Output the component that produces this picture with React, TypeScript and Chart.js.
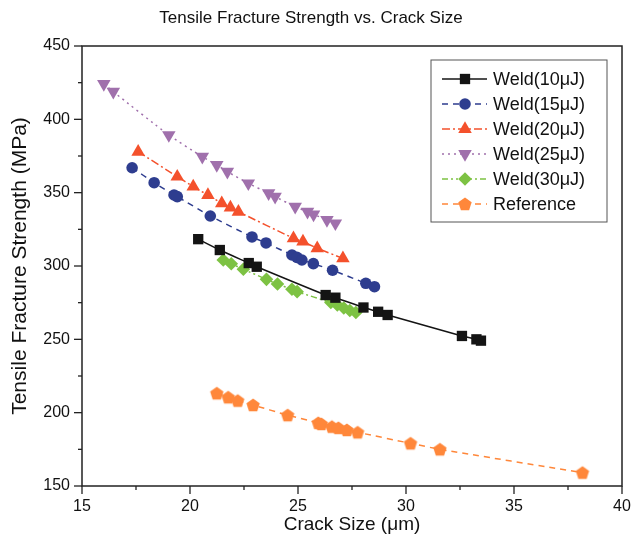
import React, { useEffect, useRef } from "react";
import { Chart, registerables } from "chart.js";
Chart.register(...registerables);

// ---- data ----
const titleText = "Tensile Fracture Strength vs. Crack Size";
const xTitle = "Crack Size (μm)";
const yTitle = "Tensile Fracture Strength (MPa)";

const xMajorTicks = [15, 20, 25, 30, 35, 40];
const xMinorTicks = [17.5, 22.5, 27.5, 32.5, 37.5];
const yMajorTicks = [150, 200, 250, 300, 350, 400, 450];
const yMinorTicks = [175, 225, 275, 325, 375, 425];

const seriesLabels = ["Weld(10μJ)", "Weld(15μJ)", "Weld(20μJ)", "Weld(25μJ)", "Weld(30μJ)", "Reference"];

const weld10X = [20.38, 21.38, 22.72, 23.09, 26.28, 26.73, 28.03, 28.71, 29.15, 32.59, 33.26, 33.47];
const weld10Y = [318.3, 310.9, 302.0, 299.5, 280.2, 278.4, 271.7, 268.8, 266.6, 252.3, 250.0, 249.1];

const weld15X = [17.32, 18.34, 19.26, 19.41, 20.94, 22.87, 23.52, 24.72, 24.95, 25.18, 25.71, 26.6, 28.14, 28.54];
const weld15Y = [367.0, 356.8, 348.4, 347.3, 334.1, 319.8, 315.7, 307.5, 305.9, 304.1, 301.6, 297.1, 288.2, 285.9];

const weld20X = [17.6, 19.41, 20.15, 20.83, 21.47, 21.87, 22.24, 24.79, 25.23, 25.89, 27.08];
const weld20Y = [377.9, 360.9, 354.1, 348.4, 342.8, 339.9, 337.0, 318.9, 316.6, 312.1, 305.2];

const weld25X = [16.01, 16.45, 19.02, 20.57, 21.24, 21.73, 22.7, 23.64, 23.94, 24.87, 25.44, 25.72, 26.34, 26.73];
const weld25Y = [424.1, 418.8, 389.3, 374.5, 368.9, 364.3, 356.4, 349.6, 347.3, 340.4, 337.0, 335.2, 331.4, 329.1];

const weld30X = [21.54, 21.91, 22.47, 23.54, 24.05, 24.72, 24.96, 26.52, 26.82, 27.12, 27.4, 27.68];
const weld30Y = [304.1, 301.5, 297.8, 290.9, 287.7, 284.1, 282.5, 275.1, 273.4, 271.4, 269.7, 268.3];

const refX = [21.24, 21.77, 22.21, 22.92, 24.52, 25.94, 26.08, 26.57, 26.87, 27.26, 27.76, 30.21, 31.57, 38.17];
const refY = [213.2, 210.5, 208.2, 205.2, 198.3, 193.0, 192.3, 190.4, 189.6, 188.2, 186.6, 179.1, 175.0, 159.1];

const seriesX = [weld10X, weld15X, weld20X, weld25X, weld30X, refX];
const seriesY = [weld10Y, weld15Y, weld20Y, weld25Y, weld30Y, refY];

// ---- styles ----
const FONT = "'Liberation Sans', Arial, sans-serif";
const colors = ["#141414", "#2E3D8F", "#F4512C", "#A070AC", "#7DC243", "#FF873A"];
const dashes: number[][] = [[], [6, 5], [8, 3, 2, 3], [2, 4], [6, 3, 2, 3, 2, 3], [6, 5]];
const markers = ["rect", "circle", "triangle", "triangleDown", "rectRot", "pentagon"];
const radii = [7.3, 5.8, 7.8, 7.8, 6.8, 7];

function pentagonPath(ctx: CanvasRenderingContext2D, cx: number, cy: number, r: number) {
  ctx.beginPath();
  for (let i = 0; i < 5; i++) {
    const a = -Math.PI / 2 + (i * 2 * Math.PI) / 5;
    const px = cx + r * Math.cos(a);
    const py = cy + r * Math.sin(a);
    if (i === 0) ctx.moveTo(px, py);
    else ctx.lineTo(px, py);
  }
  ctx.closePath();
}

function makePentagon(color: string, r: number) {
  const c = document.createElement("canvas");
  const s = Math.ceil(r * 2 + 2);
  c.width = s;
  c.height = s;
  const ctx = c.getContext("2d")!;
  ctx.fillStyle = color;
  pentagonPath(ctx, s / 2, s / 2 + 0.5, r);
  ctx.fill();
  return c;
}

function drawMarker(ctx: CanvasRenderingContext2D, kind: string, x: number, y: number, r: number, color: string) {
  ctx.save();
  ctx.fillStyle = color;
  ctx.setLineDash([]);
  ctx.beginPath();
  if (kind === "rect") {
    const s = Math.SQRT1_2 * r;
    ctx.rect(x - s, y - s, 2 * s, 2 * s);
  } else if (kind === "circle") {
    ctx.arc(x, y, r, 0, Math.PI * 2);
  } else if (kind === "triangle" || kind === "triangleDown") {
    let rad = kind === "triangle" ? 0 : Math.PI;
    for (let i = 0; i < 3; i++) {
      const px = x + Math.sin(rad) * r;
      const py = y - Math.cos(rad) * r;
      if (i === 0) ctx.moveTo(px, py);
      else ctx.lineTo(px, py);
      rad += (2 * Math.PI) / 3;
    }
    ctx.closePath();
  } else if (kind === "rectRot") {
    ctx.moveTo(x, y - r);
    ctx.lineTo(x + r, y);
    ctx.lineTo(x, y + r);
    ctx.lineTo(x - r, y);
    ctx.closePath();
  } else {
    pentagonPath(ctx, x, y + 0.5, r);
  }
  ctx.fill();
  ctx.restore();
}

const framePlugin = {
  id: "frameTicks",
  afterDraw(chart: any) {
    const { ctx, chartArea: a, scales } = chart;
    const xs = scales.x;
    const ys = scales.y;
    ctx.save();
    ctx.strokeStyle = "#222";
    ctx.lineWidth = 1.5;
    ctx.setLineDash([]);
    ctx.strokeRect(a.left, a.top, a.right - a.left, a.bottom - a.top);
    ctx.lineWidth = 1.3;
    const tick = (x1: number, y1: number, x2: number, y2: number) => {
      ctx.beginPath();
      ctx.moveTo(x1, y1);
      ctx.lineTo(x2, y2);
      ctx.stroke();
    };
    xMajorTicks.forEach((v) => { const p = xs.getPixelForValue(v); tick(p, a.bottom, p, a.bottom + 8); });
    xMinorTicks.forEach((v) => { const p = xs.getPixelForValue(v); tick(p, a.bottom, p, a.bottom + 4); });
    yMajorTicks.forEach((v) => { const p = ys.getPixelForValue(v); tick(a.left, p, a.left - 8, p); });
    yMinorTicks.forEach((v) => { const p = ys.getPixelForValue(v); tick(a.left, p, a.left - 4, p); });

    // legend
    const bx = a.right - 191;
    const by = a.top + 14;
    const bw = 176;
    const bh = 162;
    ctx.fillStyle = "#fff";
    ctx.fillRect(bx, by, bw, bh);
    ctx.strokeStyle = "#555";
    ctx.lineWidth = 1;
    ctx.strokeRect(bx, by, bw, bh);
    ctx.font = `18px ${FONT}`;
    ctx.textBaseline = "middle";
    ctx.textAlign = "left";
    chart.data.datasets.forEach((ds: any, i: number) => {
      const ry = by + 19 + i * 25;
      ctx.save();
      ctx.strokeStyle = colors[i];
      ctx.lineWidth = 1.5;
      ctx.setLineDash(dashes[i]);
      tick(bx + 11, ry, bx + 56, ry);
      ctx.restore();
      drawMarker(ctx, markers[i], bx + 34, ry, radii[i], colors[i]);
      ctx.fillStyle = "#111";
      ctx.fillText(ds.label, bx + 62, ry + 1);
    });
    ctx.restore();
  },
};

export default function App() {
  const ref = useRef<HTMLCanvasElement | null>(null);
  useEffect(() => {
    if (!ref.current) return;
    const pent = makePentagon(colors[5], radii[5]);
    const datasets = seriesLabels.map((label, i) => ({
      label,
      data: seriesX[i].map((x, j) => ({ x, y: seriesY[i][j] })),
      showLine: true,
      borderColor: colors[i],
      backgroundColor: colors[i],
      borderWidth: 1.5,
      borderDash: dashes[i],
      pointStyle: markers[i] === "pentagon" ? pent : markers[i] === "triangleDown" ? "triangle" : markers[i],
      rotation: markers[i] === "triangleDown" ? 180 : 0,
      pointRadius: radii[i],
      pointBorderWidth: 0,
      pointBackgroundColor: colors[i],
      pointBorderColor: colors[i],
      tension: 0.2,
    }));
    const chart = new Chart(ref.current, {
      type: "scatter",
      data: { datasets },
      options: {
        responsive: false,
        animation: false,
        devicePixelRatio: 1,
        layout: { padding: { left: 0, right: 9, top: 0, bottom: 0 } },
        plugins: {
          legend: { display: false },
          tooltip: { enabled: false },
          title: {
            display: true,
            text: titleText,
            color: "#111",
            font: { family: FONT, size: 17, weight: "normal" },
            padding: { top: 8, bottom: 17.6 },
          },
        },
        scales: {
          x: {
            type: "linear",
            min: 15,
            max: 40,
            afterFit: (s: any) => { s.height = 55; s.paddingLeft = 0; s.paddingRight = 0; },
            afterBuildTicks: (s: any) => { s.ticks = xMajorTicks.map((v) => ({ value: v })); },
            ticks: { color: "#111", padding: 11, maxRotation: 0, autoSkip: false, font: { family: FONT, size: 16 } },
            grid: { display: false, drawTicks: false },
            border: { display: false },
            title: { display: true, text: xTitle, color: "#111", font: { family: FONT, size: 19 }, padding: { top: 0, bottom: 5 } },
          },
          y: {
            type: "linear",
            min: 150,
            max: 450,
            afterFit: (s: any) => { s.width = 82; s.paddingTop = 0; s.paddingBottom = 0; },
            afterBuildTicks: (s: any) => { s.ticks = yMajorTicks.map((v) => ({ value: v })); },
            ticks: { color: "#111", padding: 12, autoSkip: false, font: { family: FONT, size: 16 } },
            grid: { display: false, drawTicks: false },
            border: { display: false },
            title: { display: true, text: yTitle, color: "#111", font: { family: FONT, size: 21 }, padding: { top: 8, bottom: 0 } },
          },
        },
      },
      plugins: [framePlugin],
    } as any);
    return () => chart.destroy();
  }, []);
  return (
    <div style={{ position: "absolute", left: 0, top: 0, width: 631, height: 541, background: "#fff" }}>
      <canvas ref={ref} width={631} height={541} style={{ display: "block" }} />
    </div>
  );
}
